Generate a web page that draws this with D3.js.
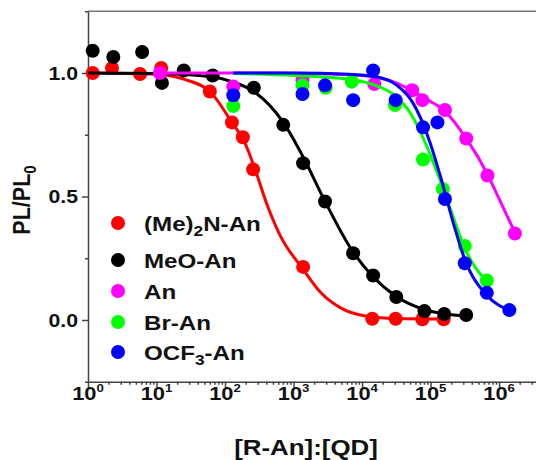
<!DOCTYPE html>
<html lang="en">
<head>
<meta charset="UTF-8">
<title>PL quenching</title>
<script src="https://cdnjs.cloudflare.com/ajax/libs/d3/7.8.5/d3.min.js"></script>
<style>
  body { margin: 0; background: #fff; }
  svg text { font-family: Arial, "Liberation Sans", sans-serif; font-weight: bold; fill: #111; }
</style>
</head>
<body>
<svg id="chart" width="536" height="460"></svg>
<script>
// series names and colours
const names = ["(Me)2N-An", "MeO-An", "An", "Br-An", "OCF3-An"];
const colors = ["#ff0000", "#000000", "#ff00ff", "#00ff00", "#0000ff"];

// measured points  ([R-An]:[QD] ratio, PL/PL0)
const redX = [1.17, 2.24, 5.75, 11.7, 60, 126, 182, 257, 1380, 14100, 30900, 75900, 155000];
const redY = [1.0, 1.02, 0.996, 1.02, 0.925, 0.80, 0.74, 0.61, 0.215, 0.005, 0.005, 0.003, 0.003];
const blackX = [1.17, 2.34, 6.17, 12, 25, 66, 263, 708, 1380, 2880, 7410, 14500, 31600, 81300, 158000, 331000];
const blackY = [1.09, 1.065, 1.085, 0.96, 1.01, 0.99, 0.94, 0.79, 0.635, 0.48, 0.27, 0.18, 0.093, 0.036, 0.024, 0.02];
const pinkX = [11.2, 132, 1350, 15100, 53700, 75900, 162000, 331000, 676000, 1700000];
const pinkY = [1.0, 0.945, 0.97, 0.955, 0.93, 0.89, 0.85, 0.735, 0.585, 0.35];
const greenX = [132, 1350, 2950, 7080, 30200, 77600, 151000, 316000, 661000];
const greenY = [0.866, 0.95, 0.94, 0.965, 0.87, 0.65, 0.53, 0.30, 0.16];
const blueX = [132, 1350, 2880, 7410, 14500, 30900, 77600, 126000, 162000, 316000, 661000, 1410000];
const blueY = [0.91, 0.915, 0.95, 0.89, 1.01, 0.89, 0.78, 0.80, 0.49, 0.23, 0.11, 0.04];

// fitted curves
const redFitX = [1, 10, 25, 60, 126, 200, 282, 407, 631, 1380, 2510, 4790, 11700, 31600, 148000];
const redFitY = [1.0, 0.995, 0.975, 0.925, 0.80, 0.71, 0.60, 0.47, 0.345, 0.205, 0.11, 0.05, 0.015, 0.006, 0.004];
const blackFitX = [1, 10, 63, 126, 263, 708, 1380, 2880, 7410, 14500, 31600, 81300, 158000, 339000];
const blackFitY = [1.0, 0.998, 0.985, 0.965, 0.925, 0.80, 0.66, 0.48, 0.275, 0.175, 0.095, 0.042, 0.025, 0.016];
const pinkFitX = [11.2, 100, 1000, 10000, 31600, 56200, 100000, 162000, 331000, 676000, 1000000, 1700000];
const pinkFitY = [1.0, 1.0, 0.999, 0.99, 0.96, 0.925, 0.885, 0.845, 0.735, 0.59, 0.49, 0.355];
const greenFitX = [132, 1000, 6310, 15800, 28200, 50100, 89100, 138000, 200000, 316000, 661000];
const greenFitY = [0.998, 0.99, 0.975, 0.95, 0.915, 0.84, 0.70, 0.565, 0.44, 0.29, 0.155];
const blueFitX = [132, 1000, 6310, 15800, 32400, 55000, 97700, 138000, 224000, 316000, 661000, 1410000];
const blueFitY = [1.0, 1.0, 0.995, 0.985, 0.95, 0.88, 0.72, 0.585, 0.375, 0.245, 0.10, 0.04];

const yTicks = [0, 0.5, 1.0];
const yMinor = [-0.25, 0.25, 0.75, 1.25];
const xDecades = [0, 1, 2, 3, 4, 5, 6];

const series = [
  { px: redX, py: redY, fx: redFitX, fy: redFitY },
  { px: blackX, py: blackY, fx: blackFitX, fy: blackFitY },
  { px: pinkX, py: pinkY, fx: pinkFitX, fy: pinkFitY },
  { px: greenX, py: greenY, fx: greenFitX, fy: greenFitY },
  { px: blueX, py: blueY, fx: blueFitX, fy: blueFitY }
];

const svg = d3.select("#chart");
const stretch = "scale(1.15,1)";

const x = d3.scaleLog().domain([1, 5e6]).range([88, 547]);
const y = d3.scaleLinear().domain([-0.25, 1.25]).range([381.75, 11.25]);

// frame top line
svg.append("line")
  .attr("x1", 88).attr("x2", 536).attr("y1", y(1.25)).attr("y2", y(1.25))
  .attr("stroke", "#777").attr("stroke-width", 1.5);

// x axis
const minorX = [];
xDecades.forEach(d => { for (let k = 2; k <= 9; k++) { const v = k * Math.pow(10, d); if (v <= 5e6) minorX.push(v); } });

const gx = svg.append("g").attr("transform", `translate(0,${y(-0.25)})`);
gx.call(d3.axisBottom(x).tickValues(xDecades.map(d => Math.pow(10, d))).tickSize(6).tickSizeOuter(0).tickFormat(""));
gx.append("g").call(d3.axisBottom(x).tickValues(minorX).tickSize(3).tickSizeOuter(0).tickFormat(""))
  .select(".domain").remove();
gx.selectAll("path, line").attr("stroke", "#444").attr("stroke-width", 1.5);

xDecades.forEach(d => {
  const t = svg.append("text")
    .attr("transform", `translate(${x(Math.pow(10, d))},400) ${stretch}`)
    .attr("text-anchor", "middle")
    .attr("font-size", 19);
  t.append("tspan").text("10");
  t.append("tspan").attr("dy", -8).attr("font-size", 11.5).text(d);
});

// y axis
const gy = svg.append("g").attr("transform", "translate(88,0)");
gy.call(d3.axisLeft(y).tickValues(yTicks).tickSize(6).tickSizeOuter(0).tickFormat(""));
gy.append("g").call(d3.axisLeft(y).tickValues(yMinor).tickSize(3).tickSizeOuter(0).tickFormat(""))
  .select(".domain").remove();
gy.selectAll("path, line").attr("stroke", "#444").attr("stroke-width", 1.5);

yTicks.forEach(v => {
  svg.append("text")
    .attr("transform", `translate(78,${y(v) + 6.5}) ${stretch}`)
    .attr("text-anchor", "end")
    .attr("font-size", 18.5)
    .text(d3.format(".1f")(v));
});

// axis titles
svg.append("text")
  .attr("transform", `translate(306,455) ${stretch}`)
  .attr("text-anchor", "middle")
  .attr("font-size", 22.5)
  .text("[R-An]:[QD]");

const yt = svg.append("text")
  .attr("transform", `translate(30,200) ${stretch} rotate(-90)`)
  .attr("text-anchor", "middle")
  .attr("font-size", 21.5);
yt.append("tspan").text("PL/PL");
yt.append("tspan").attr("dy", 5).attr("font-size", 15).text("0");

// curves and points
const line = d3.line().x(d => x(d[0])).y(d => y(d[1])).curve(d3.curveMonotoneX);

series.forEach((s, i) => {
  const g = svg.append("g");
  g.append("path")
    .datum(s.fx.map((v, j) => [v, s.fy[j]]))
    .attr("d", line)
    .attr("fill", "none")
    .attr("stroke", colors[i])
    .attr("stroke-width", 3);
  g.selectAll("circle")
    .data(s.px.map((v, j) => [v, s.py[j]]))
    .join("circle")
    .attr("cx", d => x(d[0]))
    .attr("cy", d => y(d[1]))
    .attr("r", 7)
    .attr("fill", colors[i]);
});

// legend
const legendY = [223, 260, 291, 322, 352];
const legend = svg.append("g");
names.forEach((n, i) => {
  legend.append("circle").attr("cx", 118).attr("cy", legendY[i]).attr("r", 7).attr("fill", colors[i]);
  const t = legend.append("text")
    .attr("transform", `translate(144,${legendY[i] + 7.5}) ${stretch}`)
    .attr("font-size", 21);
  const m = n.match(/^(.*?)(\d)(.*)$/);
  if (m) {
    t.append("tspan").text(m[1]);
    t.append("tspan").attr("dy", 5).attr("font-size", 15).text(m[2]);
    t.append("tspan").attr("dy", -5).text(m[3]);
  } else {
    t.text(n);
  }
});
</script>
</body>
</html>
